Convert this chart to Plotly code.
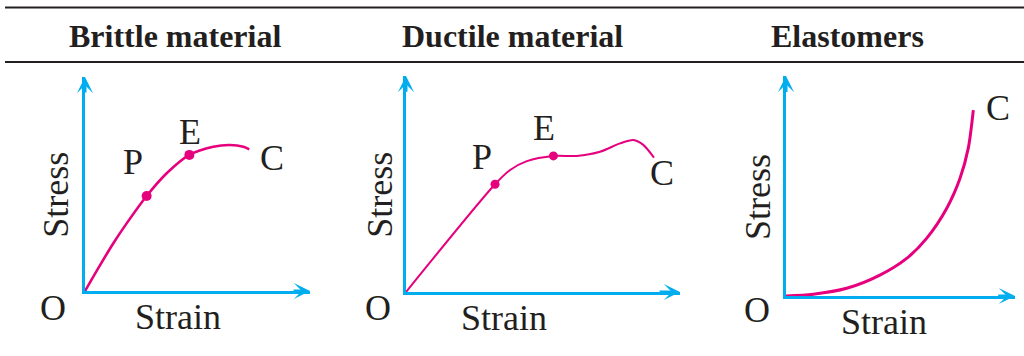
import plotly.graph_objects as go

W, H = 1024, 356
CYAN = "#00AEEF"
MAGENTA = "#E6007E"
INK = "#231F20"
SERIF = "Liberation Serif, Times New Roman, serif"

titles = ["Brittle material", "Ductile material", "Elastomers"]

# strain and stress as % of the drawn axis length
brittle_strain = [0, 6.7, 12.6, 18.5, 27.4, 36.3, 46.4, 57.0, 64.4, 70.4, 73.0]
brittle_stress = [0, 12.1, 22.3, 31.6, 44.4, 55.0, 63.6, 67.4, 68.2, 67.4, 66.2]
brittle_points = {"P": (27.4, 44.4), "E": (46.4, 63.6)}

ductile_strain = [0, 32.5, 38.0, 44.1, 53.8, 62.3, 70.8, 78.1, 83.0, 86.6, 90.5]
ductile_stress = [0, 49.9, 56.5, 60.6, 63.0, 63.0, 64.9, 68.8, 70.4, 68.1, 62.2]
ductile_points = {"P": (32.5, 49.9), "E": (53.8, 63.0)}

elastomer_strain = [0, 11.9, 26.5, 41.0, 52.7, 61.4, 70.2, 76.0, 79.6, 81.8]
elastomer_stress = [0, 0.8, 3.5, 9.5, 17.1, 26.2, 39.9, 53.5, 67.2, 84.5]
elastomer_points = {}

AXIS_MAX = 100


def px_x(p):
    return p / W


def px_y(p):
    return 1 - p / H


# panel frames in pixels: (origin x, arrow tip x, origin y, arrow top y)
frames = [(85, 310, 291, 77), (406, 680, 292, 76), (786, 1015, 296, 76)]
curves = [
    (brittle_strain, brittle_stress, brittle_points, 2.6, 10),
    (ductile_strain, ductile_stress, ductile_points, 2.0, 9),
    (elastomer_strain, elastomer_stress, elastomer_points, 3.0, 9),
]
# label offsets in pixels relative to the marked point / curve end
label_shift = [
    {"P": (-14, 34), "E": (1, 23), "C": (23, -9)},
    {"P": (-13, 27), "E": (-9, 28), "C": (8, -15)},
    {"C": (25, 2)},
]
strain_x = [41.3, 35.8, 42.8]
stress_shift = [-29, -26, -28]
o_shift = [(-32, -17), (-28, -16), (-29, -14)]
title_x = [175, 512, 847]

fig = go.Figure()
annotations = []
layout = {}

for i, ((x0, x1, y0, y1), (xs, ys, pts, lw, ms)) in enumerate(zip(frames, curves)):
    n = "" if i == 0 else str(i + 1)
    xa, ya = "x" + n, "y" + n
    layout["xaxis" + n] = dict(
        domain=[px_x(x0), px_x(x1)], range=[0, AXIS_MAX], anchor=ya,
        showgrid=False, zeroline=False, showticklabels=False, ticks="",
        showline=True, linecolor=CYAN, linewidth=3, layer="below traces",
    )
    layout["yaxis" + n] = dict(
        domain=[px_y(y0), px_y(y1)], range=[0, AXIS_MAX], anchor=xa,
        showgrid=False, zeroline=False, showticklabels=False, ticks="",
        showline=True, linecolor=CYAN, linewidth=3, layer="below traces",
    )

    fig.add_trace(go.Scatter(
        x=xs, y=ys, mode="lines", xaxis=xa, yaxis=ya,
        line=dict(color=MAGENTA, width=lw, shape="spline", smoothing=0.8),
        hoverinfo="skip", showlegend=False, cliponaxis=False,
    ))
    if pts:
        fig.add_trace(go.Scatter(
            x=[v[0] for v in pts.values()], y=[v[1] for v in pts.values()],
            mode="markers", xaxis=xa, yaxis=ya,
            marker=dict(color=MAGENTA, size=ms),
            hoverinfo="skip", showlegend=False, cliponaxis=False,
        ))

    # arrow heads on both axes
    for tip, tail in [((AXIS_MAX, 0), (AXIS_MAX - 8, 0)), ((0, AXIS_MAX), (0, AXIS_MAX - 8))]:
        annotations.append(dict(
            x=tip[0], y=tip[1], ax=tail[0], ay=tail[1], xref=xa, yref=ya,
            axref=xa, ayref=ya, text="", showarrow=True, arrowhead=3,
            arrowsize=0.9, arrowwidth=3, arrowcolor=CYAN,
        ))

    letter_font = dict(family=SERIF, size=36, color=INK)
    common = dict(xref=xa, yref=ya, showarrow=False, font=letter_font,
                  xanchor="center", yanchor="middle")
    for name, (px, py) in pts.items():
        dx, dy = label_shift[i][name]
        annotations.append(dict(x=px, y=py, text=name, xshift=dx, yshift=dy, **common))
    dx, dy = label_shift[i]["C"]
    annotations.append(dict(x=xs[-1], y=ys[-1], text="C", xshift=dx, yshift=dy, **common))
    annotations.append(dict(x=0, y=0, text="O", xshift=o_shift[i][0],
                            yshift=o_shift[i][1], **common))
    annotations.append(dict(x=strain_x[i], y=0, text="Strain", yshift=-26, **common))
    annotations.append(dict(x=0, y=AXIS_MAX * 0.45, text="Stress", textangle=-90,
                            xshift=stress_shift[i], **common))

    annotations.append(dict(
        x=px_x(title_x[i]), y=px_y(36), xref="paper", yref="paper",
        xanchor="center", yanchor="middle",
        text="<b>%s</b>" % titles[i], showarrow=False,
        font=dict(family=SERIF, size=32, color=INK),
    ))

shapes = [
    dict(type="line", xref="paper", yref="paper", x0=px_x(5), x1=1,
         y0=px_y(y), y1=px_y(y), line=dict(color=INK, width=2))
    for y in (7.5, 62)
]

fig.update_layout(
    width=W, height=H, margin=dict(l=0, r=0, t=0, b=0),
    paper_bgcolor="white", plot_bgcolor="white",
    annotations=annotations, shapes=shapes, **layout,
)

fig.write_html("out.html", config={"displayModeBar": False},
               post_script="document.body.style.margin='0';")
